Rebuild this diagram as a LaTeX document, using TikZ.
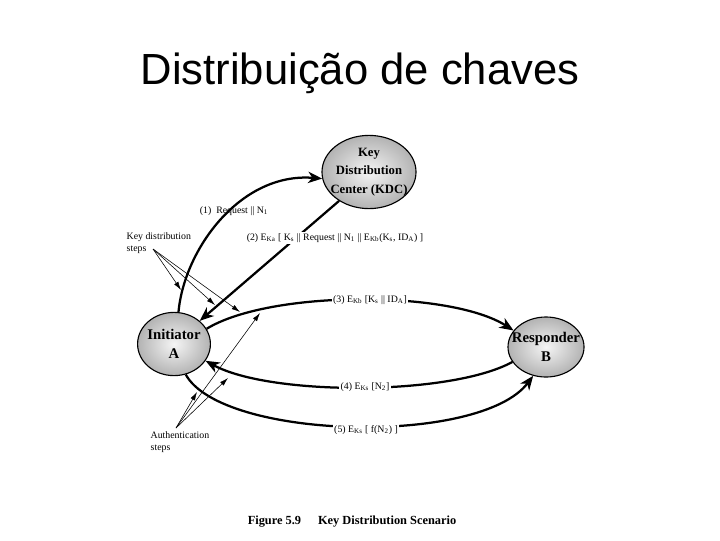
\documentclass[tikz,border=0pt]{standalone}
\usepackage{fontspec}
\setmainfont{Liberation Serif}
\setsansfont{Liberation Sans}
\usetikzlibrary{shapes,arrows.meta}
\newcommand{\idx}[1]{\textsubscript{#1}}

\begin{document}
\begin{tikzpicture}[x=0.025cm,y=-0.025cm,
  party/.style={ellipse,draw,thick,inner sep=0pt,
    inner color=gray!8,outer color=gray!60},
  who/.style={align=center,inner sep=0pt,font=\fontsize{10.5}{13}\selectfont\bfseries},
  msg/.style={-{Stealth[length=10pt,width=8pt,inset=3pt]},line width=1.6pt},
  hint/.style={-{Latex[length=6pt,width=3.5pt]},thin},
  lbl/.style={font=\fontsize{7}{8.5}\selectfont,inner sep=1pt},
  onlbl/.style={lbl,fill=white}]
\useasboundingbox (0,0) rectangle (720,540);
\node[anchor=base,font=\sffamily\fontsize{31}{36}\selectfont] (title) at (360,84) {Distribuição de chaves};
% parties
\node[party,minimum width=2.35cm,minimum height=1.83cm] (kdc) at (369,172) {};
\node[party,minimum width=1.82cm,minimum height=1.58cm] (ini) at (174,344) {};
\node[party,minimum width=1.9cm,minimum height=1.5cm] (res) at (546,347) {};
\node[who,font=\fontsize{9}{13}\selectfont\bfseries] (kdct) at (kdc) {Key\\Distribution\\Center (KDC)};
\node[who] (init) at (ini) {Initiator\\A};
\node[who] (rest) at (res) {Responder\\B};
% messages
\draw[msg] (ini.82) .. controls (184,250) and (240,172) .. (kdc.188);
\draw[msg] (kdc.224) -- (ini.42);
\draw[msg] (ini.25) .. controls (270,290) and (450,290) .. (res.153);
\draw[msg] (res.204) .. controls (450,396) and (270,396) .. (ini.332);
\draw[msg] (ini.291) .. controls (222,440) and (480,446) .. (res.246);
\node[lbl] (l1) at (234,211) {(1)~ Request || N\idx{1}};
\node[onlbl] (l2) at (335,238) {(2) E\idx{Ka} [ K\idx{s} || Request || N\idx{1} || E\idx{Kb}(K\idx{s}, ID\idx{A}) ]};
\node[onlbl] (l3) at (370,300) {(3) E\idx{Kb} [K\idx{s} || ID\idx{A}]};
\node[onlbl] (l4) at (365,387) {(4) E\idx{Ks} [N\idx{2}]};
\node[onlbl] (l5) at (366,430) {(5) E\idx{Ks} [ f(N\idx{2}) ]};
% pointers
\node[lbl,align=left,anchor=north west] (kds) at (125,231) {Key distribution\\steps};
\node[lbl,align=left,anchor=north west] (aus) at (149,430) {Authentication\\steps};
\coordinate (k0) at (153,249);
\coordinate (a0) at (176,428);
\foreach \x/\y in {181/290,215/305,240/312}
  \draw[hint] (k0) -- (\x,\y);
\foreach \x/\y in {197/392,228/378,260/313}
  \draw[hint] (a0) -- (\x,\y);
\node[font=\fontsize{8.8}{10}\selectfont\bfseries] (cap) at (352,522) {Figure 5.9\hspace{12pt}Key Distribution Scenario};
\end{tikzpicture}
\end{document}
